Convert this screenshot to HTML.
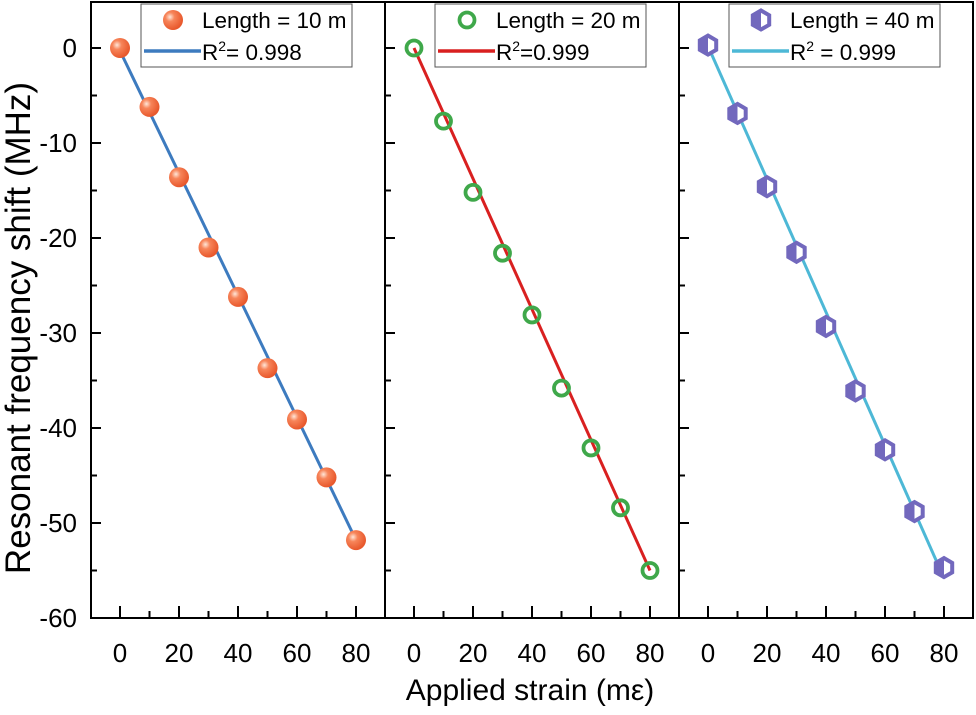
<!DOCTYPE html>
<html><head><meta charset="utf-8"><style>
body{margin:0;background:#fff;}
svg{display:block;font-family:"Liberation Sans",Arial,sans-serif;}
</style></head><body>
<svg id="c" width="976" height="715" viewBox="0 0 976 715">
<defs>
<radialGradient id="ball" cx="35%" cy="35%" r="65%"><stop offset="0" stop-color="#ffe6d8"/><stop offset="0.35" stop-color="#f7855a"/><stop offset="1" stop-color="#e8582c"/></radialGradient>
</defs>
<g id="root"></g>
<text x="30" y="328" font-size="35" text-anchor="middle" transform="rotate(-90 30 328)">Resonant frequency shift (MHz)</text>
<text x="530" y="700" font-size="30" text-anchor="middle">Applied strain (mε)</text>
</svg>
<script>
const strain = [0,10,20,30,40,50,60,70,80];
const shift10 = [0,-6.2,-13.6,-21,-26.2,-33.7,-39.1,-45.2,-51.8];
const shift20 = [0,-7.7,-15.2,-21.6,-28.1,-35.8,-42.1,-48.4,-55];
const shift40 = [0.3,-6.9,-14.6,-21.5,-29.3,-36.1,-42.3,-48.8,-54.7];
const fit10 = [-0.3,-51.8];
const fit20 = [0,-55];
const fit40 = [0.2,-55.8];
const xTicks = [0,20,40,60,80];
const xMinor = [10,30,50,70];
const yTicks = [0,-10,-20,-30,-40,-50,-60];

const NS='http://www.w3.org/2000/svg';
const root=document.getElementById('root');
function mk(tag,attrs,parent){const e=document.createElementNS(NS,tag);for(const k in attrs)e.setAttribute(k,attrs[k]);(parent||root).appendChild(e);return e;}
const plotTop=2,plotBot=618;
const Y=v=>48+(0-v)*9.5;
const panels=[
 {l:91,name:'panel-10m',data:shift10,fit:fit10,color:'#3d7bbf',label:'Length = 10 m',r2:'= 0.998',marker:'ball'},
 {l:385,name:'panel-20m',data:shift20,fit:fit20,color:'#d92020',label:'Length = 20 m',r2:'=0.999',marker:'ring'},
 {l:679,name:'panel-40m',data:shift40,fit:fit40,color:'#4db8d6',label:'Length = 40 m',r2:' = 0.999',marker:'hex'}
];
function hexPts(cx,cy,r){let p=[];for(let i=0;i<6;i++){const a=Math.PI/6+i*Math.PI/3;p.push((cx+r*Math.cos(a)).toFixed(1)+','+(cy+r*Math.sin(a)).toFixed(1));}return p.join(' ');}
function marker(type,cx,cy,g){
 if(type==='ball'){const m=mk('circle',{cx,cy,r:10,fill:'url(#ball)'},g);}
 else if(type==='ring'){const m=mk('circle',{cx,cy,r:7.5,fill:'none',stroke:'#3fa84a','stroke-width':3.8},g);}
 else{const m=mk('polygon',{points:hexPts(cx,cy,9.5),fill:'#fff',stroke:'#7268bd','stroke-width':4},g);
  const h=mk('path',{d:`M${cx} ${cy-9.5}L${cx-8.2} ${cy-4.75}L${cx-8.2} ${cy+4.75}L${cx} ${cy+9.5}Z`,fill:'#7268bd'},g);}
}
panels.forEach((p,pi)=>{
 const X=v=>p.l+29+v*2.95;
 const g=mk('g',{});
 
 
 xTicks.forEach(t=>{const l=mk('line',{x1:X(t),x2:X(t),y1:plotBot,y2:plotBot-12,stroke:'#000','stroke-width':2},g);
  const tx=mk('text',{x:X(t),y:plotBot+44,'font-size':26,'text-anchor':'middle'},g);tx.textContent=t;});
 xMinor.forEach(t=>{const l=mk('line',{x1:X(t),x2:X(t),y1:plotBot,y2:plotBot-7,stroke:'#000','stroke-width':2},g);});
 for(let v=0;v>=-60;v-=5){const len=(v%10===0)?10:6;const l=mk('line',{x1:p.l,x2:p.l+len,y1:Y(v),y2:Y(v),stroke:'#000','stroke-width':2},g);}
 if(pi===0){yTicks.forEach(t=>{const tx=mk('text',{x:p.l-14,y:Y(t)+9,'font-size':26,'text-anchor':'end'},g);tx.textContent=t;});}
 const fr=mk('rect',{x:p.l,y:plotTop,width:294,height:plotBot-plotTop,fill:'none',stroke:'#000','stroke-width':2},g);
 
 const fl=mk('line',{x1:X(strain[0]),y1:Y(p.fit[0]),x2:X(strain[strain.length-1]),y2:Y(p.fit[1]),stroke:p.color,'stroke-width':3},g);
 
 strain.forEach((s,i)=>marker(p.marker,X(s),Y(p.data[i]),g));
 const lg=mk('g',{},g);
 
 const lx=p.l+50;
 mk('rect',{x:lx,y:4,width:211,height:63,fill:'#fff',stroke:'#555','stroke-width':1},lg);
 marker(p.marker,lx+32,20,lg);
 const t1=mk('text',{x:lx+61,y:28,'font-size':22.5},lg);t1.textContent=p.label;
 mk('line',{x1:lx+3,x2:lx+60,y1:51,y2:51,stroke:p.color,'stroke-width':3.5},lg);
 const t2=mk('text',{x:lx+61,y:60,'font-size':22.5},lg);
 t2.innerHTML='R<tspan dy="-9" font-size="14">2</tspan><tspan dy="9">'+p.r2+'</tspan>';
});
</script>
</body></html>
